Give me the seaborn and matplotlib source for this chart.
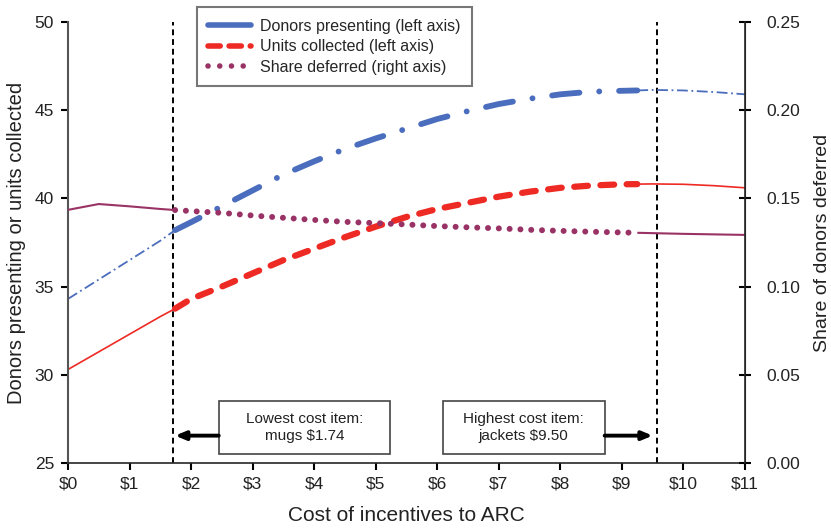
import numpy as np
import pandas as pd
import matplotlib
matplotlib.use("Agg")
import matplotlib.pyplot as plt
import seaborn as sns
from matplotlib.lines import Line2D
from matplotlib.patches import Rectangle

# Data
cost = [0, 0.5, 1, 1.5, 1.74, 2, 2.5, 3, 3.5, 4, 4.5, 5, 5.5, 6, 6.5, 7, 7.5,
        8, 8.5, 9, 9.25, 9.5, 10, 10.5, 11]
donors = [34.3, 35.4, 36.5, 37.6, 38.2, 38.65, 39.55, 40.45, 41.35, 42.1, 42.8,
          43.4, 43.95, 44.5, 44.95, 45.35, 45.65, 45.9, 46.05, 46.1, 46.12,
          46.15, 46.12, 46.03, 45.9]
units = [30.3, 31.3, 32.3, 33.3, 33.75, 34.3, 35.0, 35.75, 36.5, 37.15, 37.8,
         38.4, 38.95, 39.4, 39.75, 40.1, 40.38, 40.6, 40.73, 40.8, 40.81,
         40.82, 40.8, 40.72, 40.6]
deferred = [0.1435, 0.1468, 0.1455, 0.1440, 0.1434, 0.1428, 0.1418, 0.1403,
            0.1390, 0.1378, 0.1367, 0.1360, 0.1352, 0.1343, 0.1336, 0.1330,
            0.1322, 0.1316, 0.1311, 0.1307, 0.1305, 0.1303, 0.1299, 0.1296,
            0.1293]
thick_range = (1.74, 9.25)
item_lines = [1.71, 9.57]
x_ticks = list(range(0, 12))
x_tick_labels = [f"${v}" for v in x_ticks]
right_ticks = [0, 0.05, 0.10, 0.15, 0.20, 0.25]

BLUE = "#4A6DBD"
RED = "#EE2A24"
PURPLE = "#993366"

df = pd.DataFrame({"cost": cost, "donors": donors, "units": units,
                   "deferred": deferred})
inside = df[(df.cost >= thick_range[0]) & (df.cost <= thick_range[1])]
left_part = df[df.cost <= thick_range[0]]
right_part = df[df.cost >= thick_range[1]]

sns.set_style("ticks")
plt.rcParams["font.family"] = ["Liberation Sans", "DejaVu Sans"]

fig = plt.figure(figsize=(8.31, 5.29), dpi=100)
ax = fig.add_axes([0.0818, 0.1248, 0.8147, 0.8336])
ax2 = ax.twinx()


def draw(axis, data, col, color, lw, ls, cap="round"):
    sns.lineplot(data=data, x="cost", y=col, ax=axis, color=color, lw=lw,
                 estimator=None, sort=True)
    line = axis.lines[-1]
    line.set_linestyle(ls)
    line.set_dash_capstyle(cap)
    line.set_solid_capstyle("butt")


# thin parts outside the item range
for part in (left_part, right_part):
    draw(ax, part, "donors", BLUE, 1.3, (0, (6, 2, 1, 2)), cap="butt")
    draw(ax, part, "units", RED, 1.2, "-")
    draw(ax2, part, "deferred", PURPLE, 1.5, "-")

# thick parts inside the item range
draw(ax, inside, "donors", BLUE, 4.2, (0, (4.7, 3.4, 0.01, 3.4)))
draw(ax, inside, "units", RED, 4.5, (0, (2.2, 2.0)))
draw(ax2, inside, "deferred", PURPLE, 4.3, (0, (0.01, 1.8)))

for xv in item_lines:
    ax.axvline(xv, color="black", lw=1.4, ls=(0, (3, 2)), zorder=1)

ax.set_xlim(0, 11)
ax.set_ylim(25, 50)
ax2.set_ylim(0, 0.25)
ax.set_xticks(x_ticks)
ax.set_xticklabels(x_tick_labels)
ax.set_yticks([25, 30, 35, 40, 45, 50])
ax2.set_yticks(right_ticks)
ax2.set_yticklabels([f"{v:.2f}" for v in right_ticks])

for a in (ax, ax2):
    a.spines["top"].set_visible(False)
ax.tick_params(direction="out", length=5, width=1.5, labelsize=12.5,
               color="black", labelcolor="#222222", pad=5)
ax2.tick_params(direction="inout", length=9, width=1.5, labelsize=12.5,
                color="black", labelcolor="#222222", pad=11)
ax.spines["left"].set_color("#555555")
ax.spines["left"].set_linewidth(1.5)
ax.spines["bottom"].set_linewidth(1.2)
ax2.spines["right"].set_linewidth(1.2)
ax2.spines["left"].set_visible(False)
ax2.spines["bottom"].set_visible(False)

ax.set_xlabel("Cost of incentives to ARC", fontsize=15, color="#222222",
              labelpad=10)
ax.set_ylabel("Donors presenting or units collected", fontsize=14.5,
              color="#222222", labelpad=6)
ax2.set_ylabel("Share of donors deferred", fontsize=14, color="#222222",
               labelpad=10)

# annotation boxes with arrows
boxes = [
    (2.45, 5.23, "Lowest cost item:\nmugs $1.74", 1.74),
    (6.09, 8.72, "Highest cost item:\njackets $9.50", 9.5),
]
for x0, x1, label, target in boxes:
    ax.add_patch(Rectangle((x0, 25.5), x1 - x0, 3.03, facecolor="white",
                           edgecolor="#444444", lw=1.2, zorder=4))
    ax.text((x0 + x1) / 2, 27.02, label, ha="center", va="center",
            fontsize=11, color="#222222", linespacing=1.25, zorder=5)
    start = x0 if target < x0 else x1
    ax.annotate("", xy=(target, 26.55), xytext=(start, 26.55),
                arrowprops=dict(arrowstyle="-|>,head_length=0.6,head_width=0.25",
                                color="black", lw=2.8, shrinkA=0, shrinkB=0),
                zorder=5)

handles = [
    Line2D([], [], color=BLUE, lw=4),
    Line2D([], [], color=RED, lw=4, ls=(0, (2.2, 1.6)), dash_capstyle="round"),
    Line2D([], [], color=PURPLE, lw=4, ls=(0, (0.01, 2.1)),
           dash_capstyle="round"),
]
labels = ["Donors presenting (left axis)", "Units collected (left axis)",
          "Share deferred (right axis)"]
leg = ax2.legend(handles, labels, loc="upper left",
                 bbox_to_anchor=(0.19, 1.033), fontsize=11.5, frameon=True,
                 fancybox=False, handlelength=2.7, borderpad=0.7,
                 labelspacing=0.35, handletextpad=0.6, borderaxespad=0)
leg.get_frame().set_edgecolor("#555555")
leg.get_frame().set_linewidth(1.5)
leg.set_zorder(10)

fig.savefig("out.png", dpi=100)
